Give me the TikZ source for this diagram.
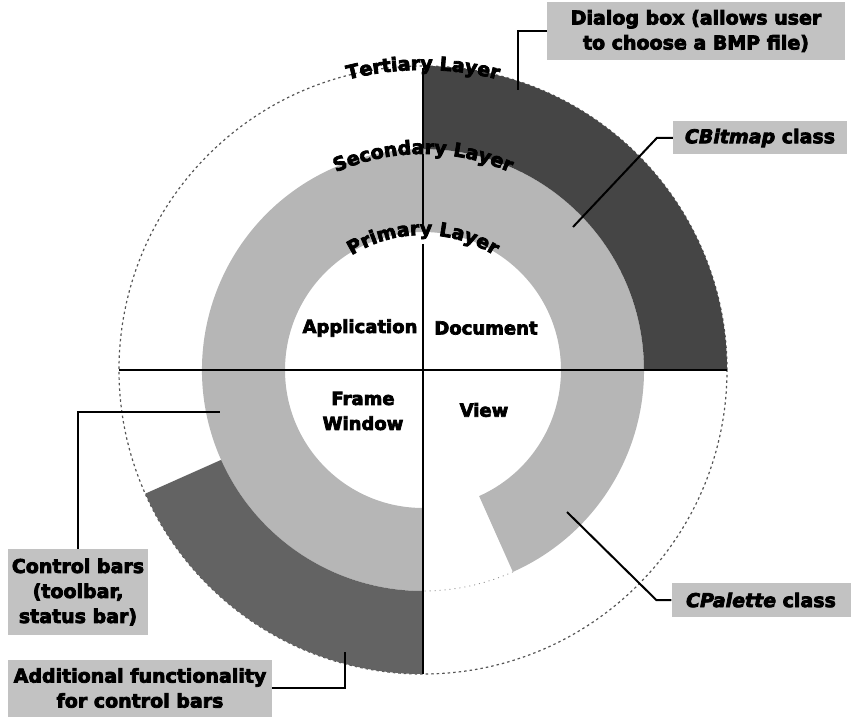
\documentclass[tikz,border=0pt]{standalone}
\usepackage{fontspec}
\setmainfont{DejaVu Sans}[BoldFeatures={FakeBold=4}, BoldItalicFeatures={FakeBold=4}]
\usetikzlibrary{positioning,calc,decorations.text}
\definecolor{ringL}{HTML}{B6B6B6}
\definecolor{ringD}{HTML}{454545}
\definecolor{ringM}{HTML}{636363}
\definecolor{tagbg}{HTML}{C2C2C2}
\definecolor{faint}{HTML}{555555}
\newcommand{\labfont}{\fontsize{19}{25}\selectfont\bfseries}
\newcommand{\inrfont}{\fontsize{18}{25}\selectfont\bfseries}
\newcommand{\rA}{138}
\newcommand{\rB}{221}
\newcommand{\rC}{304}
\newcommand{\ringpart}[4]{(#1:#4) arc (#1:#2:#4) -- (#2:#3) arc (#2:#1:#3) -- cycle}
\tikzset{
  tag/.style={fill=tagbg, inner sep=0pt, align=center, font=\labfont},
  quad/.style={inner sep=0pt, align=center, font=\inrfont},
  axis/.style={line width=2.4pt},
  lead/.style={line width=2pt},
  bound/.style={faint, line width=1.2pt, dash pattern=on 2.5pt off 3pt},
  arclab/.style={decorate, decoration={text along path, text align=center, text={|\labfont|#1}}},
}

\begin{document}
\begin{tikzpicture}[x=1pt,y=1pt]
  \useasboundingbox (-423,-347) rectangle (428,370);
  \draw[bound] (0,0) circle (\rC);
  \draw[faint!70, line width=0.8pt, dash pattern=on 1pt off 4pt] (-66:\rB) arc (-66:-90:\rB);
  \fill[ringL] \ringpart{-66}{270}{\rA}{\rB};
  \fill[ringD] \ringpart{0}{90}{\rB}{\rC};
  \fill[ringM] \ringpart{204}{270}{\rB}{\rC};
  \draw[axis] (-\rC,0) -- (\rC,0);
  \draw[axis] (0,302) -- (0,222);
  \draw[axis] (0,216) -- (0,146);
  \draw[axis] (0,126) -- (0,-\rC);
  \path[arclab={Tertiary Layer}] (150:300) arc (150:30:300);
  \path[arclab={Secondary Layer}] (160:216) arc (160:20:216);
  \path[arclab={Primary Layer}] (170:135) arc (170:10:135);
  \node[quad] (app) at (-63,42) {Application};
  \node[quad] (doc) at (63,42) {Document};
  \node[quad] (frm) at (-60,-41) {Frame\\Window};
  \node[quad] (view) at (61,-40) {View};
  \node[tag, minimum width=298pt, minimum height=58pt] (dlg) at (273,339) {Dialog box (allows user\\to choose a BMP file)};
  \node[tag, minimum width=174pt, minimum height=33pt] (bmp) at (337,232) {\textit{CBitmap} class};
  \node[tag, minimum width=140pt, minimum height=86pt] (ctl) at (-345,-222) {Control bars\\(toolbar,\\status bar)};
  \node[tag, minimum width=264pt, minimum height=57pt] (add) at (-283,-318) {Additional functionality\\for control bars};
  \node[tag, minimum width=179pt, minimum height=34pt] (pal) at (338,-230) {\textit{CPalette} class};
  \coordinate (dlgtip) at (95,280);
  \coordinate (bmptip) at (150,143);
  \coordinate (ctltip) at (-203,-42);
  \coordinate (addtip) at (-78,-282);
  \coordinate (paltip) at (144,-142);
  \draw[lead] (dlg.west) -| (dlgtip);
  \draw[lead] (bmp.west) -- ++(-16,0) -- (bmptip);
  \draw[lead] (ctl.north) |- (ctltip);
  \draw[lead] (add.east) -| (addtip);
  \draw[lead] (pal.west) -- ++(-15,0) -- (paltip);
\end{tikzpicture}
\end{document}
